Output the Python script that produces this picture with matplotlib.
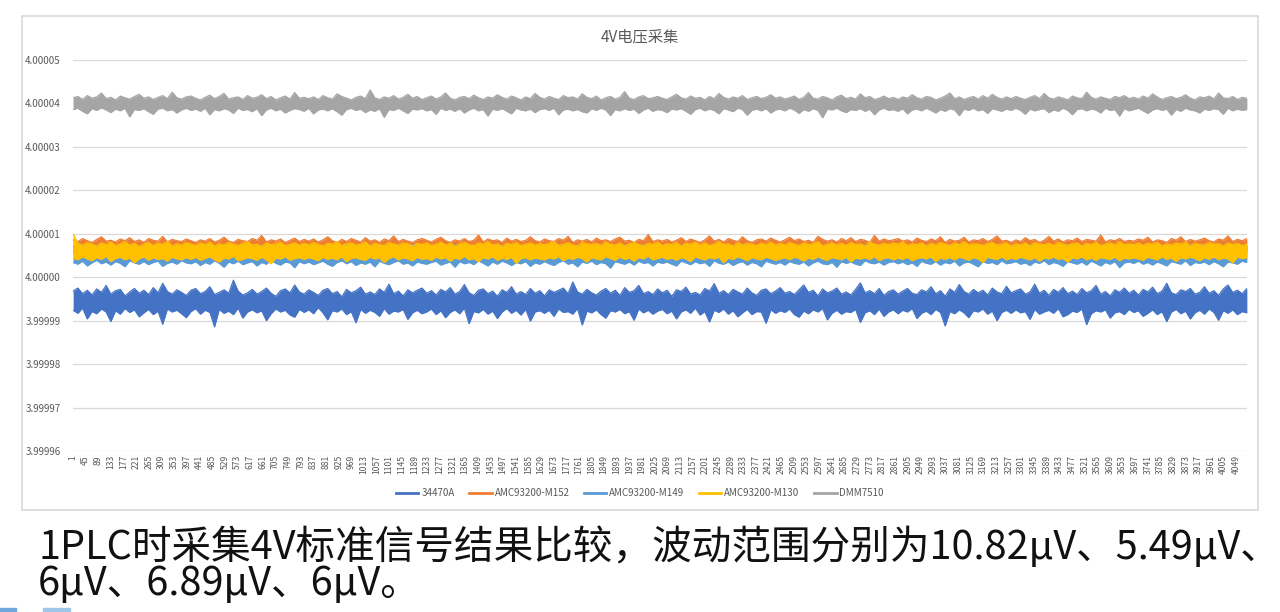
import numpy as np
from matplotlib import pyplot as plt
from matplotlib.patches import Rectangle
from matplotlib.lines import Line2D

# upper / lower edge of each trace, microvolts above 4 V, read along the x axis
s34470a_hi = [
    -3.2, -2.5, -3.8, -3.0, -4.1, -2.7, -3.5, -1.9, -3.9, -3.1, -2.8, -4.3, -3.4, -2.6, -3.7, -3.0, -4.0, -2.4, -3.6, -1.4, -3.3, -3.9, -2.9, -3.5, -4.2,
    -3.0, -2.6, -3.8, -3.3, -2.2, -4.0, -3.5, -2.9, -3.7, -0.7, -3.2, -4.1, -3.6, -2.8, -3.9, -3.3, -2.5, -3.7, -4.4, -3.1, -2.7, -3.6, -1.8, -3.4, -3.9,
    -2.9, -3.5, -4.2, -3.0, -2.6, -3.8, -3.3, -4.5, -2.8, -3.6, -3.1, -2.3, -3.9, -3.4, -4.0, -2.7, -3.5, -1.6, -3.8, -3.2, -4.3, -2.9, -3.6, -3.0, -2.5,
    -3.7, -3.1, -4.1, -2.8, -3.4, -2.4, -3.9, -3.3, -1.7, -3.6, -4.2, -3.0, -2.7, -3.8, -3.2, -4.4, -2.9, -3.5, -2.2, -3.9, -3.3, -4.0, -2.6, -3.7, -3.1,
    -4.3, -2.9, -3.5, -3.0, -2.5, -3.8, -1.1, -3.4, -3.9, -2.8, -3.6, -4.1, -3.2, -2.6, -3.7, -3.0, -4.2, -2.4, -3.5, -3.1, -1.9, -3.8, -3.3, -4.0, -2.7,
    -3.6, -3.0, -4.4, -2.9, -3.3, -2.3, -3.9, -3.5, -4.1, -2.6, -3.2, -1.5, -3.7, -3.1, -4.0, -2.8, -3.4, -3.9, -2.5, -3.6, -4.2, -3.0, -2.7, -3.8, -3.2,
    -2.4, -3.7, -3.3, -4.0, -2.9, -1.8, -3.5, -3.0, -4.3, -2.7, -3.6, -3.2, -2.5, -3.9, -3.4, -4.1, -2.8, -1.3, -3.6, -3.1, -3.8, -2.6, -4.2, -3.3, -2.9,
    -3.9, -3.2, -2.6, -3.7, -4.0, -2.9, -3.4, -2.2, -3.8, -3.1, -4.4, -2.7, -3.5, -1.7, -3.3, -3.9, -2.8, -3.6, -3.0, -4.1, -2.5, -3.4, -3.8, -2.1, -3.6,
    -3.1, -2.7, -3.9, -3.4, -1.6, -3.7, -3.0, -4.2, -2.8, -3.5, -2.4, -3.8, -3.2, -4.0, -2.6, -3.6, -3.1, -1.9, -3.9, -3.3, -4.3, -2.9, -3.5, -2.5, -3.7,
    -3.0, -4.1, -2.8, -3.4, -2.3, -3.8, -3.2, -1.4, -3.6, -4.0, -2.9, -3.3, -2.6, -3.9, -3.5, -2.2, -3.7, -3.1, -4.2, -2.7, -1.8, -3.5, -3.0, -3.8, -2.6,
]
s34470a_lo = [
    -7.6, -8.3, -7.1, -9.6, -7.9, -8.4, -7.3, -8.0, -10.2, -7.7, -8.5, -7.2, -8.1, -7.5, -9.1, -8.2, -7.4, -8.6, -7.8, -10.8, -7.3, -8.0, -7.6, -8.4, -9.3,
    -7.9, -7.2, -8.5, -7.6, -8.1, -11.4, -7.4, -8.3, -7.8, -8.6, -7.1, -9.4, -8.0, -7.5, -8.2, -7.7, -10.0, -8.4, -7.3, -8.0, -7.6, -8.7, -9.2, -7.4, -8.1,
    -7.5, -8.4, -7.0, -8.2, -9.8, -7.7, -8.0, -7.3, -8.6, -7.9, -10.5, -7.4, -8.3, -7.6, -8.1, -9.0, -7.2, -8.5, -7.8, -8.0, -7.4, -9.7, -8.2, -7.6, -8.4,
    -8.0, -7.3, -8.6, -7.7, -9.3, -8.1, -7.5, -8.4, -7.1, -10.7, -7.9, -8.2, -7.4, -8.5, -7.8, -9.5, -8.0, -7.2, -8.3, -7.6, -8.7, -7.4, -10.1, -8.0, -7.7,
    -8.3, -7.6, -9.0, -7.3, -8.1, -7.9, -8.5, -7.2, -11.0, -7.8, -8.2, -7.5, -8.6, -9.4, -7.7, -8.0, -7.4, -8.4, -7.9, -9.9, -7.3, -8.2, -7.6, -8.5, -7.8,
    -7.4, -8.4, -7.8, -9.6, -8.0, -7.5, -8.3, -7.1, -8.7, -7.9, -10.3, -7.6, -8.1, -7.3, -8.5, -7.7, -9.1, -8.2, -7.4, -8.6, -7.9, -8.0, -10.6, -7.5, -8.3,
    -7.7, -8.1, -7.3, -8.6, -9.2, -7.8, -8.4, -7.5, -8.0, -7.2, -9.8, -8.3, -7.6, -8.5, -7.9, -8.1, -7.4, -10.4, -8.2, -7.7, -8.6, -7.3, -9.0, -8.0, -7.5,
    -8.4, -7.6, -8.0, -7.2, -9.5, -8.3, -7.8, -8.6, -7.4, -8.1, -11.2, -7.9, -8.4, -7.5, -8.2, -9.3, -7.7, -8.0, -7.3, -8.5, -7.8, -10.0, -8.1, -7.6, -8.3,
    -7.5, -8.2, -7.9, -9.7, -7.4, -8.5, -8.0, -7.6, -8.3, -7.2, -9.1, -8.6, -7.8, -8.1, -7.3, -10.9, -8.4, -7.7, -8.0, -7.5, -9.4, -8.2, -7.9, -8.6, -7.4,
    -8.1, -7.7, -9.0, -8.3, -7.5, -8.6, -7.9, -10.2, -8.0, -7.4, -8.4, -7.8, -9.6, -8.2, -7.6, -8.5, -7.3, -8.1, -9.9, -7.7, -8.3, -7.5, -8.6, -7.9, -8.2,
]
m152_hi = [
    8.6, 8.2, 8.9, 8.4, 8.0, 8.7, 9.3, 8.3, 8.5, 8.1, 8.8, 8.4, 9.1, 8.2, 8.6, 8.0, 8.9, 8.5, 8.3, 9.4, 8.1, 8.7, 8.4, 8.2, 8.8,
    8.4, 8.0, 8.6, 8.3, 8.9, 8.1, 8.5, 9.2, 8.3, 8.0, 8.7, 8.4, 8.2, 8.9, 8.5, 9.6, 8.1, 8.6, 8.3, 8.8, 8.0, 8.5, 9.0, 8.2, 8.7,
    8.3, 8.8, 8.1, 8.6, 9.3, 8.4, 8.0, 8.7, 8.2, 8.9, 8.5, 8.1, 9.1, 8.3, 8.6, 8.0, 8.8, 8.4, 9.5, 8.2, 8.7, 8.3, 8.0, 8.6, 8.9,
    8.5, 8.1, 8.7, 9.2, 8.4, 8.0, 8.6, 8.3, 8.9, 8.2, 8.5, 9.7, 8.1, 8.8, 8.4, 8.6, 8.0, 9.0, 8.3, 8.7, 8.2, 8.5, 9.3, 8.4, 8.1,
    8.8, 8.4, 8.2, 8.9, 8.5, 9.4, 8.0, 8.6, 8.3, 8.7, 8.1, 9.0, 8.4, 8.6, 8.2, 8.8, 9.2, 8.3, 8.5, 8.0, 8.7, 8.4, 9.8, 8.2, 8.6,
    8.3, 8.7, 8.1, 8.5, 9.1, 8.2, 8.8, 8.4, 8.0, 8.6, 9.5, 8.3, 8.7, 8.1, 8.9, 8.5, 8.2, 9.3, 8.4, 8.0, 8.6, 8.8, 8.3, 9.0, 8.5,
    8.1, 8.6, 9.2, 8.4, 8.8, 8.2, 8.5, 8.0, 9.4, 8.7, 8.3, 8.6, 8.1, 8.9, 8.4, 9.1, 8.2, 8.7, 8.5, 8.0, 9.6, 8.3, 8.8, 8.4, 8.6,
    8.9, 8.3, 8.6, 8.1, 9.0, 8.5, 8.2, 8.8, 8.4, 9.3, 8.0, 8.7, 8.3, 8.5, 9.2, 8.1, 8.6, 8.4, 8.9, 8.2, 8.7, 9.5, 8.3, 8.5, 8.0,
    8.6, 8.2, 9.1, 8.4, 8.7, 8.0, 8.5, 9.4, 8.3, 8.8, 8.1, 8.6, 8.4, 9.0, 8.2, 8.7, 8.5, 8.3, 9.7, 8.1, 8.6, 8.4, 8.9, 8.2, 8.5,
    8.3, 8.8, 8.5, 9.2, 8.1, 8.6, 8.4, 8.0, 8.9, 8.5, 9.3, 8.2, 8.7, 8.3, 8.6, 9.0, 8.4, 8.1, 8.8, 8.5, 9.5, 8.2, 8.7, 8.4, 8.9,
]
m152_lo = [
    5.8, 5.4, 6.0, 5.6, 5.2, 5.9, 5.5, 6.1, 5.3, 5.7, 5.9, 5.4, 6.0, 5.6, 5.1, 5.8, 5.5, 6.2, 5.3, 5.7, 5.9, 5.4, 5.6, 6.0, 5.5,
    5.7, 5.3, 5.9, 5.5, 6.1, 5.2, 5.8, 5.6, 5.4, 6.0, 5.7, 5.3, 5.9, 5.5, 5.8, 5.1, 5.6, 6.0, 5.4, 5.8, 5.6, 5.2, 5.9, 5.7, 5.5,
    5.9, 5.5, 5.2, 5.8, 5.6, 6.1, 5.4, 5.7, 5.3, 5.9, 5.6, 6.0, 5.5, 5.2, 5.8, 5.4, 5.9, 5.6, 6.1, 5.3, 5.7, 5.5, 5.9, 5.4, 5.8,
    5.6, 6.0, 5.4, 5.7, 5.2, 5.9, 5.5, 5.8, 6.1, 5.3, 5.6, 5.9, 5.4, 5.7, 6.0, 5.5, 5.2, 5.8, 5.6, 5.9, 5.3, 5.7, 6.0, 5.5, 5.4,
    5.8, 5.3, 5.7, 6.0, 5.5, 5.9, 5.2, 5.6, 5.8, 5.4, 6.1, 5.7, 5.3, 5.9, 5.5, 5.8, 5.6, 5.1, 5.9, 5.7, 5.4, 6.0, 5.6, 5.3, 5.8,
    5.5, 5.9, 5.6, 5.2, 5.8, 6.0, 5.4, 5.7, 5.3, 5.9, 5.6, 5.8, 5.2, 6.1, 5.5, 5.7, 5.4, 5.9, 5.6, 5.3, 5.8, 6.0, 5.5, 5.7, 5.4,
    5.9, 5.6, 5.3, 5.8, 5.5, 6.0, 5.7, 5.2, 5.9, 5.4, 5.6, 6.1, 5.5, 5.8, 5.3, 5.7, 5.9, 5.4, 6.0, 5.6, 5.2, 5.8, 5.5, 5.9, 5.7,
    5.4, 5.8, 6.0, 5.5, 5.7, 5.3, 5.9, 5.6, 6.1, 5.4, 5.8, 5.5, 5.2, 5.9, 5.7, 6.0, 5.4, 5.6, 5.8, 5.3, 5.9, 5.5, 5.7, 6.0, 5.6,
    5.7, 5.3, 5.9, 5.6, 5.4, 6.0, 5.5, 5.8, 5.2, 5.7, 5.9, 5.4, 6.1, 5.6, 5.3, 5.8, 5.5, 5.9, 5.7, 5.2, 6.0, 5.6, 5.4, 5.8, 5.5,
    5.9, 5.5, 5.7, 5.3, 6.0, 5.6, 5.8, 5.4, 5.9, 5.2, 5.7, 6.0, 5.5, 5.8, 5.6, 5.3, 5.9, 5.7, 5.4, 6.1, 5.5, 5.8, 5.6, 5.3, 5.7,
]
m149_hi = [
    7.1, 6.8, 7.4, 7.0, 6.7, 7.3, 6.9, 7.5, 7.0, 6.8, 7.2, 6.6, 7.4, 7.1, 6.9, 7.3, 7.0, 6.7, 7.5, 7.2, 6.8, 7.1, 7.4, 6.9, 7.0,
    7.3, 6.9, 7.0, 7.5, 6.8, 7.2, 7.1, 6.7, 7.4, 7.0, 6.9, 7.3, 7.1, 6.8, 7.5, 7.0, 7.2, 6.6, 7.3, 7.1, 6.9, 7.4, 7.0, 6.8, 7.2,
    6.9, 7.3, 7.0, 6.8, 7.4, 7.1, 6.7, 7.2, 7.5, 6.9, 7.0, 7.3, 6.8, 7.1, 7.4, 6.9, 7.2, 7.0, 6.7, 7.3, 7.1, 6.8, 7.5, 7.0, 7.2,
    7.4, 7.0, 6.8, 7.2, 7.1, 6.9, 7.5, 7.0, 6.7, 7.3, 7.2, 6.8, 7.1, 7.4, 6.9, 7.0, 7.3, 6.8, 7.2, 7.5, 7.0, 6.9, 7.1, 7.3, 6.8,
    7.0, 7.3, 6.9, 7.1, 7.4, 6.8, 7.2, 7.0, 7.5, 6.9, 7.1, 6.7, 7.3, 7.0, 7.2, 6.8, 7.4, 7.1, 6.9, 7.2, 7.0, 7.5, 6.8, 7.1, 7.3,
    6.8, 7.2, 7.1, 6.9, 7.4, 7.0, 7.3, 6.7, 7.1, 7.5, 6.9, 7.2, 7.0, 6.8, 7.3, 7.1, 6.9, 7.4, 7.0, 7.2, 6.8, 7.3, 7.1, 6.9, 7.4,
    7.2, 6.9, 7.3, 7.0, 6.8, 7.4, 7.1, 6.9, 7.2, 7.0, 7.5, 6.8, 7.1, 7.3, 6.9, 7.2, 7.0, 6.7, 7.4, 7.1, 6.9, 7.2, 7.0, 7.3, 6.8,
    7.1, 7.4, 6.9, 7.2, 7.0, 6.8, 7.3, 7.1, 6.9, 7.5, 7.0, 7.2, 6.8, 7.4, 7.1, 6.9, 7.3, 7.0, 7.2, 6.8, 7.5, 7.1, 6.9, 7.2, 7.0,
    6.9, 7.2, 7.0, 7.4, 6.8, 7.1, 7.3, 6.9, 7.0, 7.2, 6.7, 7.4, 7.1, 6.9, 7.3, 7.0, 7.2, 6.8, 7.1, 7.5, 6.9, 7.0, 7.3, 7.1, 6.8,
    7.3, 7.0, 6.8, 7.2, 7.1, 7.4, 6.9, 7.0, 7.3, 6.8, 7.2, 7.0, 7.5, 6.9, 7.1, 7.3, 6.8, 7.2, 7.0, 7.4, 6.9, 7.1, 7.2, 6.8, 7.3,
]
m149_lo = [
    3.4, 3.0, 3.7, 2.6, 3.3, 3.9, 3.1, 3.5, 2.8, 3.6, 3.2, 2.4, 3.8, 3.3, 3.0, 3.6, 2.9, 3.4, 3.7, 2.5, 3.2, 3.5, 3.0, 3.8, 3.3,
    3.1, 3.6, 2.7, 3.4, 3.0, 3.8, 3.2, 2.3, 3.5, 3.1, 3.7, 2.9, 3.3, 3.6, 2.6, 3.4, 3.0, 3.9, 3.2, 2.8, 3.5, 3.3, 2.2, 3.6, 3.1,
    3.5, 2.9, 3.3, 3.7, 3.0, 2.5, 3.4, 3.8, 3.1, 3.6, 2.7, 3.3, 3.0, 3.5, 2.4, 3.7, 3.2, 2.9, 3.4, 3.8, 3.0, 3.3, 2.6, 3.5, 3.2,
    3.0, 3.4, 3.7, 2.8, 3.2, 3.5, 2.3, 3.6, 3.1, 3.4, 2.9, 3.8, 3.2, 2.6, 3.5, 3.0, 3.7, 3.3, 2.7, 3.4, 3.1, 3.6, 2.5, 3.3, 3.0,
    3.6, 3.1, 2.7, 3.4, 3.8, 3.0, 3.3, 2.4, 3.5, 3.2, 3.7, 2.9, 3.4, 3.1, 2.1, 3.6, 3.3, 3.0, 3.5, 2.8, 3.7, 3.2, 3.4, 2.6, 3.5,
    3.2, 3.5, 3.0, 2.6, 3.7, 3.3, 2.9, 3.6, 3.1, 3.4, 2.5, 3.8, 3.2, 3.0, 3.5, 2.7, 3.3, 3.6, 2.8, 3.4, 3.1, 2.4, 3.7, 3.3, 3.0,
    3.4, 2.8, 3.6, 3.2, 3.0, 3.5, 2.6, 3.3, 3.7, 3.1, 2.9, 3.4, 2.3, 3.6, 3.2, 3.5, 3.0, 2.7, 3.8, 3.3, 3.1, 3.5, 2.8, 3.4, 3.6,
    3.1, 3.5, 2.9, 3.3, 2.5, 3.7, 3.2, 3.0, 3.6, 2.8, 3.4, 3.1, 3.7, 2.6, 3.3, 3.5, 3.0, 2.4, 3.6, 3.2, 3.4, 2.9, 3.8, 3.1, 3.3,
    3.6, 3.0, 3.3, 2.7, 3.5, 3.2, 3.8, 2.9, 3.4, 3.1, 2.5, 3.6, 3.3, 3.0, 3.5, 2.8, 3.7, 3.2, 2.6, 3.4, 3.0, 3.6, 2.2, 3.3, 3.5,
    3.2, 3.7, 3.0, 3.4, 2.8, 3.5, 3.1, 2.6, 3.6, 3.3, 3.0, 3.8, 2.7, 3.4, 3.2, 3.5, 2.9, 3.6, 3.1, 2.4, 3.5, 3.3, 3.0, 3.7, 3.4,
]
m130_hi = [
    10.0, 7.8, 7.4, 8.0, 7.6, 7.2, 7.9, 7.5, 8.1, 7.3, 7.7, 8.2, 7.4, 7.8, 7.1, 7.6, 8.0, 7.3, 7.9, 7.5, 8.3, 7.2, 7.7, 7.4, 8.0,
    7.6, 7.3, 7.9, 7.5, 8.1, 7.2, 7.7, 7.4, 8.0, 7.6, 7.3, 7.8, 8.2, 7.4, 7.6, 7.1, 7.9, 7.5, 7.7, 8.1, 7.3, 7.6, 7.9, 7.4, 7.8,
    7.4, 8.0, 7.5, 7.2, 7.8, 7.6, 8.2, 7.3, 7.7, 7.9, 7.4, 7.6, 8.1, 7.2, 7.8, 7.5, 7.3, 8.0, 7.6, 7.4, 7.9, 7.7, 7.2, 7.8, 7.5,
    7.9, 7.3, 7.6, 8.1, 7.4, 7.8, 7.2, 7.7, 8.0, 7.5, 7.3, 7.9, 7.6, 8.2, 7.4, 7.7, 7.1, 7.8, 7.5, 8.0, 7.3, 7.6, 7.9, 7.4, 7.7,
    7.5, 7.8, 8.2, 7.3, 7.6, 7.9, 7.4, 7.2, 8.0, 7.7, 7.5, 7.8, 7.3, 8.1, 7.6, 7.4, 7.9, 7.2, 7.7, 8.0, 7.5, 7.3, 7.8, 7.6, 8.1,
    7.3, 7.7, 7.5, 8.0, 7.2, 7.8, 7.6, 8.1, 7.4, 7.9, 7.3, 7.6, 8.2, 7.5, 7.7, 7.2, 8.0, 7.4, 7.8, 7.6, 7.3, 7.9, 7.5, 8.1, 7.4,
    7.8, 7.4, 8.0, 7.6, 7.3, 7.9, 7.5, 7.7, 8.2, 7.2, 7.6, 7.9, 7.4, 7.8, 7.3, 8.0, 7.5, 7.7, 7.2, 8.1, 7.6, 7.4, 7.8, 7.5, 7.9,
    7.6, 8.1, 7.3, 7.7, 7.5, 7.9, 7.2, 7.8, 7.4, 8.0, 7.6, 7.3, 7.9, 7.5, 8.2, 7.4, 7.7, 7.6, 7.3, 7.8, 8.0, 7.4, 7.6, 7.9, 7.2,
    7.7, 7.4, 7.9, 7.2, 8.0, 7.6, 7.5, 7.8, 7.3, 8.1, 7.6, 7.4, 7.7, 7.9, 7.2, 7.8, 7.5, 8.0, 7.3, 7.6, 7.9, 7.4, 8.2, 7.5, 7.7,
    7.5, 7.9, 7.3, 7.8, 7.6, 8.0, 7.2, 7.7, 7.4, 7.9, 7.6, 8.1, 7.3, 7.8, 7.5, 7.4, 8.0, 7.6, 7.7, 7.2, 7.9, 7.5, 7.8, 7.3, 7.6,
]
m130_lo = [
    4.4, 4.0, 4.7, 4.2, 3.8, 4.5, 4.1, 4.8, 3.6, 4.3, 4.6, 4.0, 4.4, 3.3, 4.2, 4.7, 3.9, 4.5, 4.1, 4.3, 3.7, 4.6, 4.2, 4.0, 4.5,
    4.1, 4.6, 3.9, 4.3, 4.7, 4.0, 3.5, 4.4, 4.2, 4.8, 3.8, 4.1, 4.5, 4.3, 3.9, 4.6, 4.0, 3.1, 4.4, 4.2, 4.7, 3.9, 4.3, 4.5, 4.1,
    4.5, 4.2, 3.8, 4.6, 4.1, 4.4, 4.0, 4.7, 3.6, 4.3, 4.5, 4.1, 3.9, 4.6, 4.2, 4.4, 3.4, 4.3, 4.7, 4.0, 4.5, 4.2, 3.8, 4.6, 4.1,
    4.3, 3.9, 4.6, 4.2, 4.5, 3.7, 4.4, 4.1, 4.8, 4.0, 4.3, 3.6, 4.5, 4.2, 4.7, 3.9, 4.4, 4.1, 4.6, 3.2, 4.3, 4.5, 4.0, 4.4, 4.2,
    4.0, 4.5, 4.2, 4.7, 3.8, 4.4, 4.1, 4.6, 4.3, 3.5, 4.5, 4.2, 4.0, 4.7, 4.3, 3.9, 4.6, 4.1, 4.4, 3.7, 4.5, 4.2, 4.8, 4.0, 4.3,
    4.6, 4.1, 4.4, 3.9, 4.5, 4.2, 3.6, 4.7, 4.3, 4.0, 4.5, 4.2, 4.6, 3.3, 4.4, 4.1, 4.7, 4.3, 3.8, 4.5, 4.2, 4.0, 4.6, 4.3, 3.9,
    4.2, 4.5, 4.0, 4.6, 4.3, 3.7, 4.4, 4.1, 4.7, 4.2, 3.9, 4.5, 4.3, 4.0, 4.6, 3.5, 4.4, 4.2, 4.5, 4.1, 4.7, 3.8, 4.3, 4.5, 4.0,
    4.4, 4.1, 4.6, 3.8, 4.3, 4.5, 4.2, 4.7, 3.6, 4.4, 4.1, 4.5, 4.0, 4.6, 4.3, 3.9, 4.5, 4.2, 3.4, 4.6, 4.3, 4.1, 4.7, 4.0, 4.4,
    4.1, 4.6, 4.3, 4.0, 4.5, 3.7, 4.4, 4.2, 4.6, 4.1, 4.3, 3.5, 4.5, 4.2, 4.7, 4.0, 4.4, 3.9, 4.5, 4.3, 4.1, 4.6, 3.8, 4.4, 4.2,
    4.5, 4.2, 3.9, 4.6, 4.3, 4.0, 4.7, 4.1, 4.4, 3.6, 4.5, 4.2, 4.6, 4.3, 3.8, 4.5, 4.1, 4.7, 4.0, 4.4, 4.2, 3.3, 4.6, 4.3, 4.5,
]
dmm7510_hi = [
    41.3, 41.6, 40.9, 41.8, 41.2, 41.5, 42.4, 41.1, 41.4, 40.8, 41.7, 41.3, 41.0, 41.6, 42.1, 41.2, 41.5, 40.9, 41.4, 41.8, 41.1, 42.6, 41.3, 41.0, 41.5,
    41.7, 41.2, 40.8, 41.4, 41.9, 41.1, 41.6, 42.3, 41.0, 41.3, 41.5, 40.9, 41.8, 41.2, 41.4, 42.0, 41.1, 41.6, 40.8, 41.3, 41.7, 41.0, 42.5, 41.2, 41.4,
    41.1, 41.5, 40.9, 41.8, 41.3, 41.0, 42.2, 41.6, 41.2, 40.8, 41.4, 41.7, 41.1, 43.1, 41.3, 40.9, 41.5, 41.2, 41.8, 41.0, 41.4, 42.1, 41.2, 41.6, 40.9,
    41.3, 41.7, 41.0, 41.5, 42.4, 41.2, 40.8, 41.4, 41.6, 41.1, 41.9, 41.3, 40.9, 41.5, 41.2, 42.0, 41.4, 41.0, 41.7, 41.3, 40.8, 41.5, 41.1, 42.3, 41.4,
    41.0, 41.6, 41.2, 40.9, 41.8, 41.3, 41.5, 41.0, 42.2, 41.4, 41.1, 41.7, 40.8, 41.3, 41.6, 41.0, 41.4, 42.7, 41.2, 40.9, 41.5, 41.8, 41.1, 41.3, 41.6,
    41.2, 40.9, 41.5, 42.1, 41.3, 41.0, 41.7, 41.2, 41.4, 40.8, 41.6, 41.1, 42.3, 41.4, 41.0, 41.5, 41.2, 41.8, 40.9, 41.3, 41.6, 41.1, 41.4, 42.0, 41.2,
    41.5, 41.0, 41.3, 41.7, 40.9, 41.4, 42.5, 41.2, 41.0, 41.6, 41.3, 40.8, 41.5, 41.9, 41.1, 41.4, 41.0, 42.2, 41.3, 41.6, 40.9, 41.2, 41.7, 41.1, 41.4,
    40.9, 41.5, 41.2, 42.0, 41.3, 41.0, 41.6, 41.4, 40.8, 41.2, 41.7, 42.4, 41.1, 41.5, 40.9, 41.3, 41.6, 41.0, 41.8, 41.2, 42.1, 41.4, 41.0, 41.5, 41.1,
    41.6, 41.2, 40.9, 41.4, 41.8, 41.1, 42.3, 41.3, 41.0, 41.5, 41.2, 40.8, 41.7, 41.3, 41.1, 42.6, 41.4, 41.0, 41.5, 41.2, 40.9, 41.6, 41.3, 41.8, 41.1,
    41.4, 41.0, 41.7, 41.2, 42.2, 41.5, 40.9, 41.3, 41.6, 41.1, 41.4, 42.0, 41.2, 40.8, 41.5, 41.3, 41.7, 41.0, 42.4, 41.3, 41.1, 41.6, 40.9, 41.4, 41.2,
]
dmm7510_lo = [
    38.6, 38.9, 38.2, 37.6, 38.8, 38.4, 39.0, 38.5, 37.9, 38.7, 38.3, 38.9, 36.9, 38.6, 38.4, 38.8, 38.1, 37.5, 38.7, 38.9, 38.3, 38.6, 37.8, 38.5, 38.9,
    38.4, 38.7, 38.2, 38.9, 37.4, 38.6, 38.3, 38.8, 38.5, 37.7, 38.9, 38.4, 38.6, 38.1, 38.8, 37.2, 38.5, 38.9, 38.3, 38.7, 37.8, 38.4, 38.8, 38.6, 38.2,
    38.9, 37.6, 38.5, 38.7, 38.3, 38.8, 38.1, 37.3, 38.6, 38.9, 38.4, 38.7, 37.9, 38.5, 38.2, 38.8, 36.8, 38.6, 38.4, 38.9, 38.3, 37.7, 38.7, 38.5, 38.8,
    38.3, 38.6, 37.5, 38.9, 38.4, 38.7, 38.2, 38.8, 37.8, 38.5, 38.9, 38.3, 38.6, 37.1, 38.7, 38.4, 38.8, 38.2, 37.6, 38.9, 38.5, 38.3, 38.7, 37.9, 38.6,
    38.8, 38.4, 38.9, 37.4, 38.5, 38.7, 38.3, 38.6, 38.1, 37.8, 38.8, 38.4, 38.9, 38.5, 37.2, 38.6, 38.3, 38.8, 38.4, 38.7, 37.7, 38.5, 38.9, 38.2, 38.6,
    38.4, 37.9, 38.7, 38.5, 38.8, 38.2, 37.5, 38.6, 38.9, 38.3, 38.7, 38.4, 37.6, 38.8, 38.5, 38.1, 38.9, 38.6, 37.3, 38.4, 38.7, 38.3, 38.8, 37.8, 38.5,
    38.7, 38.3, 38.9, 38.5, 37.7, 38.6, 38.2, 38.8, 38.4, 36.7, 38.7, 38.5, 38.9, 38.3, 37.9, 38.6, 38.4, 38.8, 38.2, 38.7, 37.4, 38.5, 38.9, 38.4, 38.6,
    38.2, 38.8, 37.6, 38.5, 38.7, 38.3, 38.9, 38.4, 37.8, 38.6, 38.2, 38.8, 38.5, 37.2, 38.7, 38.4, 38.9, 38.3, 38.6, 37.7, 38.8, 38.5, 38.2, 38.7, 38.4,
    38.9, 38.4, 37.5, 38.7, 38.3, 38.6, 38.8, 37.9, 38.5, 38.2, 38.9, 38.4, 37.4, 38.6, 38.8, 38.3, 38.7, 38.5, 37.8, 38.9, 38.4, 38.6, 37.1, 38.8, 38.3,
    38.6, 38.9, 38.3, 37.7, 38.5, 38.8, 38.4, 38.7, 37.3, 38.6, 38.2, 38.9, 38.5, 38.3, 37.8, 38.7, 38.4, 38.8, 38.6, 37.5, 38.9, 38.3, 38.7, 38.4, 38.6,
]

names = ['34470A', 'AMC93200-M152', 'AMC93200-M149', 'AMC93200-M130', 'DMM7510']
colors = ['#4472C4', '#ED7D31', '#5B9BD5', '#FFC000', '#A5A5A5']
n_samples = 4085
tick_step = 44
y_ticks = [3.99996, 3.99997, 3.99998, 3.99999, 4.00000, 4.00001, 4.00002, 4.00003, 4.00004, 4.00005]

caption1 = '1PLC时采集4V标准信号结果比较，波动范围分别为10.82μV、5.49μV、'
caption2 = '6μV、6.89μV、6μV。'

plt.rcParams['font.family'] = ['Noto Sans CJK SC', 'DejaVu Sans']

W, H = 1280, 612
fig = plt.figure(figsize=(W / 100, H / 100), dpi=100)

# chart frame
fig.patches.append(Rectangle((22 / W, 1 - 510 / H), 1236 / W, 494 / H, transform=fig.transFigure,
                             fill=False, edgecolor='#d9d9d9', lw=1.2))

ax = fig.add_axes([73 / W, 1 - 451 / H, 1174 / W, 391 / H])
bands = [(s34470a_lo, s34470a_hi), (m152_lo, m152_hi), (m149_lo, m149_hi),
         (m130_lo, m130_hi), (dmm7510_lo, dmm7510_hi)]
for i, (lo, hi) in enumerate(bands):
    x = np.linspace(1, n_samples, len(hi))
    lo = 4 + np.array(lo) * 1e-6
    hi = 4 + np.array(hi) * 1e-6
    z = 2 + i * 0.1
    ax.fill_between(x, lo, hi, color=colors[i], lw=0, zorder=z)
    ax.plot(x, hi, color=colors[i], lw=0.9, zorder=z)
    ax.plot(x, lo, color=colors[i], lw=0.9, zorder=z)

ax.set_xlim(0.5, n_samples + 0.5)
ax.set_ylim(y_ticks[0], y_ticks[-1])
ax.set_yticks(y_ticks)
ax.set_yticklabels(['%.5f' % v for v in y_ticks])
xt = list(range(1, n_samples + 1, tick_step))
ax.set_xticks(xt)
ax.set_xticklabels([str(v) for v in xt], rotation=90)
ax.tick_params(axis='y', length=0, labelsize=7, labelcolor='#595959', pad=9)
ax.tick_params(axis='x', length=0, labelsize=6.2, labelcolor='#595959', pad=3)
for s in ax.spines.values():
    s.set_visible(False)
ax.grid(axis='y', color='#d9d9d9', lw=0.9, zorder=0)
ax.set_axisbelow(True)

fig.text(0.5, 1 - 37 / H, '4V电压采集', ha='center', va='center', fontsize=11, color='#595959')

handles = [Line2D([], [], color=c, lw=2) for c in colors]
fig.legend(handles, names, loc='center', bbox_to_anchor=(0.5, 1 - 493 / H), ncol=5, frameon=False,
           fontsize=7, handlelength=2.3, handletextpad=0.3, columnspacing=1.5, labelcolor='#595959')

fig.text(38 / W, 1 - 547 / H, caption1, ha='left', va='center', fontsize=28.5, color='#111111')
fig.text(38 / W, 1 - 584 / H, caption2, ha='left', va='center', fontsize=28.5, color='#111111')

# bits of the slide below
fig.patches.append(Rectangle((0, 0), 16 / W, 4 / H, transform=fig.transFigure, color='#6fa8dc'))
fig.patches.append(Rectangle((43 / W, 0), 27 / W, 4 / H, transform=fig.transFigure, color='#9fc5e8'))

fig.savefig('out.png', dpi=100)
